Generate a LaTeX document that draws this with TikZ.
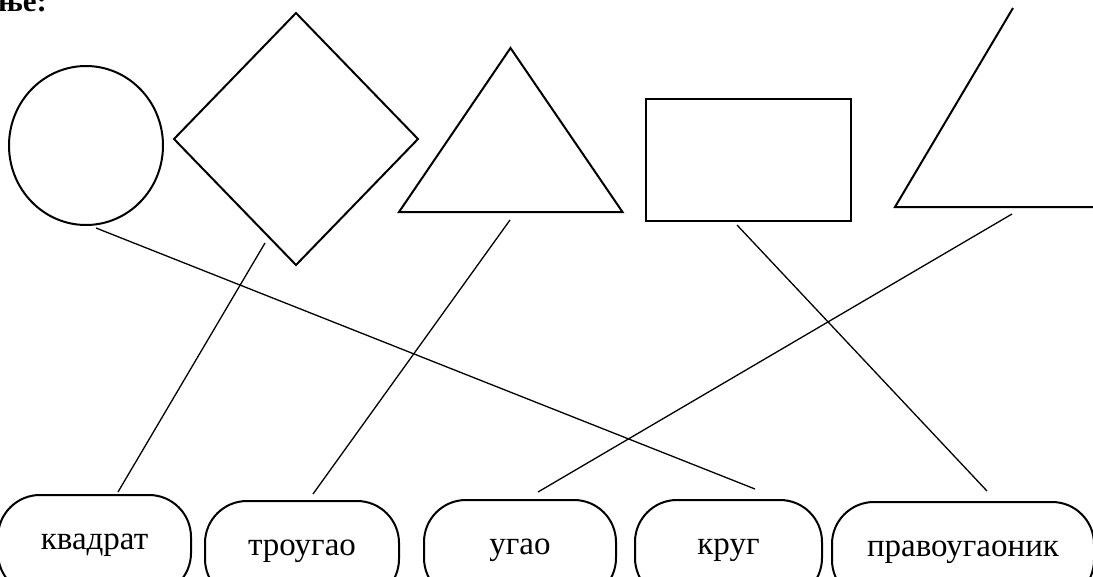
\documentclass[tikz,border=0pt]{standalone}
\usepackage{fontspec}
\setmainfont{Liberation Serif}
\begin{document}
\begin{tikzpicture}[x=1pt,y=-1pt,
  figline/.style={line width=2pt, line join=miter},
  link/.style={line width=1.3pt},
  labelbox/.style={draw, line width=2pt, rounded corners=42pt, minimum height=100pt,
    anchor=north, inner sep=0pt, text height=9pt, text depth=0pt,
    font=\fontsize{33}{33}\selectfont}]
\useasboundingbox (0,0) rectangle (1093,576);
\clip (0,0) rectangle (1093,576);

% partial heading
\node[anchor=base west, inner sep=0pt, font=\bfseries\fontsize{31}{31}\selectfont] (head) at (-2,11) {ње:};

% figures
\draw[figline] (86,145.5) ellipse [x radius=77, y radius=79.5];
\draw[figline] (296,13) -- (418,139) -- (296,265) -- (174,139) -- cycle;
\draw[figline] (510.5,48) -- (622.5,212) -- (399,212) -- cycle;
\draw[figline] (646,99) rectangle (850.5,220.5);
\draw[figline] (1013,8) -- (895,207) -- (1093,207);

% connector start points on figures
\coordinate (sCircle) at (96,228);
\coordinate (sDiamond) at (265,243);
\coordinate (sTriangle) at (510,220);
\coordinate (sRect) at (737,225);
\coordinate (sAngle) at (1012,214);

% label boxes
\node[labelbox, minimum width=193pt] (kvadrat) at (94.5,494) {квадрат};
\node[labelbox, minimum width=194pt] (trougao) at (302,500) {троугао};
\node[labelbox, minimum width=192pt] (ugao) at (520,499) {угао};
\node[labelbox, minimum width=187pt] (krug) at (728.5,499) {круг};
\node[labelbox, minimum width=262pt] (pravo) at (963,501) {правоугаоник};

% connector end points above boxes
\coordinate (eKvadrat) at (118,492);
\coordinate (eTrougao) at (313,494);
\coordinate (eUgao) at (538,492);
\coordinate (eKrug) at (755,489);
\coordinate (ePravo) at (987,491);

% connectors
\draw[link] (sCircle) -- (eKrug);
\draw[link] (sDiamond) -- (eKvadrat);
\draw[link] (sTriangle) -- (eTrougao);
\draw[link] (sRect) -- (ePravo);
\draw[link] (sAngle) -- (eUgao);
\end{tikzpicture}
\end{document}
